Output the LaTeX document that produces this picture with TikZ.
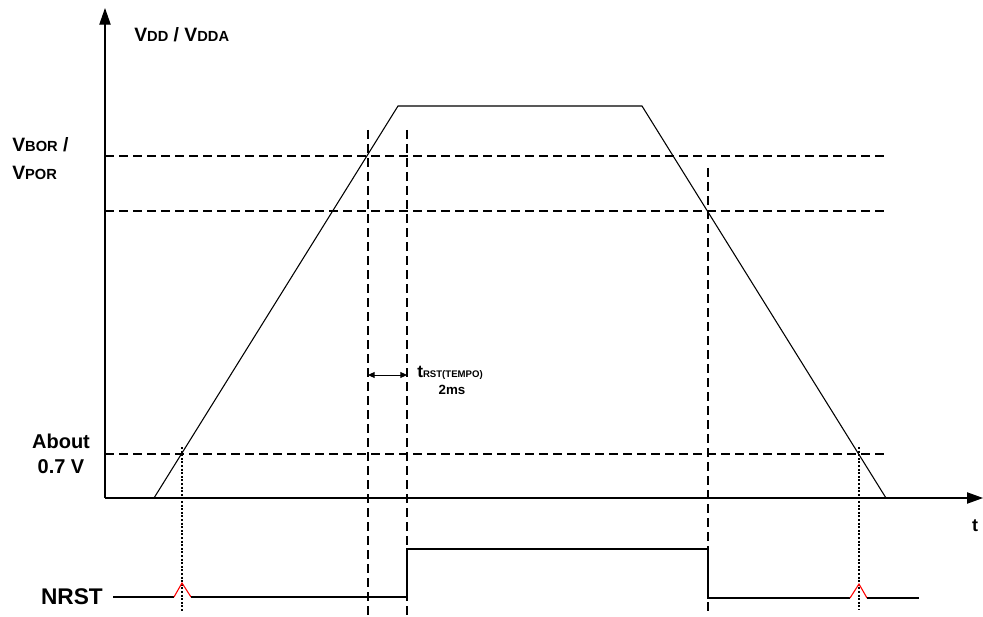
\documentclass[tikz,border=0pt]{standalone}
\usepackage{fontspec}
\setmainfont{Liberation Sans}
\usetikzlibrary{arrows.meta}
\newcommand{\bigsz}{\fontsize{14.5}{17}\selectfont}
\newcommand{\smlsz}{\fontsize{11}{13}\selectfont}
\begin{document}
\begin{tikzpicture}[x=0.75pt,y=-0.75pt,
    every node/.style={font=\bfseries,inner sep=0pt},
    level/.style={line width=1.7pt,dash pattern=on 6.75pt off 3.75pt},
    marker/.style={line width=0.9pt,dash pattern=on 1.5pt off 1.2pt},
    wave/.style={line width=0.8pt},
    spike/.style={red,line width=0.8pt}]
  \useasboundingbox (0,0) rectangle (983,617);
  % AXES
  \draw[wave,-{Triangle[length=12.5pt,width=8.5pt]}] (105,498) -- (105,8);
  \draw[wave,-{Triangle[length=12pt,width=8.5pt]}] (105,498) -- (983,498);
  \node (vdd) [anchor=west] at (134,35) {\bigsz V\smlsz DD\bigsz{} / V\smlsz DDA};
  \node (t) at (975,526) {\fontsize{13.5}{16}\selectfont t};
  % THRESHOLDS
  \draw[level] (105,156) -- (888,156);
  \draw[level] (105,211) -- (888,211);
  \draw[level] (105,454) -- (888,454);
  \node (vbor) [anchor=west] at (12,145) {\bigsz V\smlsz BOR\bigsz{} /};
  \node (vpor) [anchor=west] at (12,173) {\bigsz V\smlsz POR};
  \node (about) [align=center,font=\bfseries\fontsize{15}{19}\selectfont]
    at (61,454) {About\\0.7 V};
  % SUPPLY RAMP
  \draw[wave] (154,498) -- (398,106) -- (642,106) -- (886,498);
  % RESET TIMING
  \draw[level] (368,130) -- (368,615);
  \draw[level] (407,130) -- (407,615);
  \draw[level] (708,168) -- (708,615);
  \draw[marker] (182,447) -- (182,612);
  \draw[marker] (859,447) -- (859,610);
  \draw[line width=0.75pt,{Triangle[length=5pt,width=4.5pt]}-{Triangle[length=5pt,width=4.5pt]}]
    (368,375) -- (407,375);
  \node (trst) [anchor=west] at (417,373)
    {\fontsize{13}{15}\selectfont t\fontsize{7.2}{9}\selectfont RST(TEMPO)};
  \node (tms) at (452,390) {\fontsize{10}{12}\selectfont 2ms};
  % NRST
  \node (nrst) [anchor=east,font=\bfseries\fontsize{17}{20}\selectfont] at (103,597) {NRST};
  \draw[wave] (113,597) -- (174,597);
  \draw[spike] (174,597) -- (182,583) -- (191,597);
  \draw[wave] (191,597) -- (407,597) -- (407,549) -- (708,549) -- (708,598) -- (850,598);
  \draw[spike] (850,598) -- (859,584) -- (867,598);
  \draw[wave] (867,598) -- (919,598);
\end{tikzpicture}
\end{document}
